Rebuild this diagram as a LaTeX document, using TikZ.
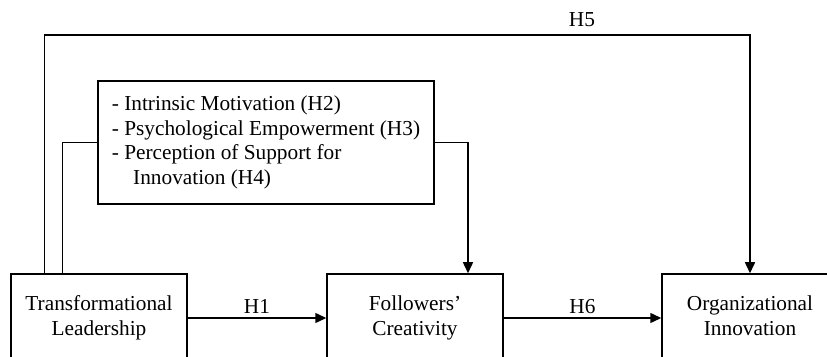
\documentclass[tikz,border=0pt]{standalone}
\usepackage{fontspec}
\setmainfont{Liberation Serif}
\usetikzlibrary{arrows.meta}
\tikzset{
  varbox/.style={draw,rectangle,line width=1.5pt,minimum width=176pt,minimum height=88pt,align=center},
  medbox/.style={draw,rectangle,line width=1.5pt,minimum width=336pt,minimum height=123pt,align=left},
  link/.style={line width=1.5pt},
  arrow/.style={link,-{Triangle[length=11pt,width=10pt]}}
}
\begin{document}
\begin{tikzpicture}[x=1pt,y=1pt,font=\fontsize{21.3}{24.5}\selectfont]
\useasboundingbox (0,0) rectangle (827,356);
\node[name=tl,varbox] at (99,38){\strut Transformational\\Leadership\strut};
\node[name=fc,varbox] at (415,38){\strut Followers'\\Creativity\strut};
\node[name=oi,varbox] at (750,38){\strut Organizational\\Innovation\strut};
\node[name=med,medbox] at (266,213.5){- Intrinsic Motivation (H2)\\- Psychological Empowerment (H3)\\- Perception of Support for\\\hspace*{1em}Innovation (H4)};
\coordinate (top) at (0,321);
\node[name=h5] at (582,336){H5};
\draw[arrow] (tl) -- node[above]{H1} (fc);
\draw[arrow] (fc) -- node[above]{H6} (oi);
\draw[link] ([xshift=52pt]tl.north west) |- (med.west);
\draw[arrow] (med.east) -| ([xshift=53pt]fc.north);
\draw[arrow] ([xshift=34pt]tl.north west) |- (top -| oi.north) -- (oi.north);
\end{tikzpicture}
\end{document}
